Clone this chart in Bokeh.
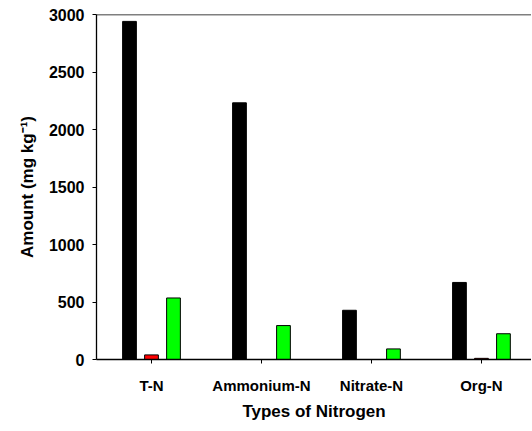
from bokeh.plotting import figure
from bokeh.models import ColumnDataSource, Range1d, FixedTicker, Span
from bokeh.transform import dodge
from bokeh.embed import file_html
from bokeh.resources import INLINE

categories = ["T-N", "Ammonium-N", "Nitrate-N", "Org-N"]
series_black = [2940, 2232, 428, 670]
series_red = [40, 0, 0, 10]
series_green = [535, 295, 92, 224]
y_ticks = [0, 500, 1000, 1500, 2000, 2500, 3000]

xs = list(range(len(categories)))
src = ColumnDataSource(dict(x=xs, black=series_black, red=series_red, green=series_green))

p = figure(frame_width=435, frame_height=345, output_backend="svg", toolbar_location=None,
           x_range=Range1d(-0.5, 3.455), y_range=Range1d(0, 3000),
           min_border_left=96, min_border_top=14, min_border_right=0, min_border_bottom=60)

bw = 0.125
p.vbar(x=dodge('x', -0.2, range=p.x_range), top='black', width=bw, bottom=0, source=src,
       fill_color="#000000", line_color="#000000", line_width=1)
p.vbar(x=dodge('x', 0.0, range=p.x_range), top='red', width=bw, bottom=0, source=src,
       fill_color="#ff0000", line_color="#000000", line_width=1)
p.vbar(x=dodge('x', 0.2, range=p.x_range), top='green', width=bw, bottom=0, source=src,
       fill_color="#00ff00", line_color="#000000", line_width=1)

p.outline_line_color = None
p.add_layout(Span(location=3000, dimension='width', line_color="#000000", line_width=1.3))
p.xgrid.visible = False
p.ygrid.visible = False
p.background_fill_color = "white"
p.border_fill_color = "white"

font = "Liberation Sans"
p.xaxis.ticker = FixedTicker(ticks=xs)
p.xaxis.major_label_overrides = {i: c for i, c in enumerate(categories)}
p.yaxis.ticker = FixedTicker(ticks=y_ticks)

for ax in (p.xaxis[0], p.yaxis[0]):
    ax.axis_line_color = "#000000"
    ax.axis_line_width = 1.3
    ax.major_tick_line_color = "#000000"
    ax.major_tick_out = 4
    ax.major_tick_in = 0
    ax.minor_tick_line_color = None
    ax.major_label_text_font = font
    ax.major_label_text_font_style = "bold"
    ax.major_label_text_font_size = "15px"
    ax.major_label_text_color = "#000000"
    ax.axis_label_text_font = font
    ax.axis_label_text_font_style = "bold"
    ax.axis_label_text_font_size = "17px"
    ax.axis_label_text_color = "#000000"

p.yaxis.major_label_text_font_size = "16px"
p.xaxis.axis_label = "Types of Nitrogen"
p.yaxis.axis_label = "Amount (mg kg\u207b\u00b9)"
p.xaxis.major_label_standoff = 13
p.yaxis.major_label_standoff = 8
p.xaxis.axis_label_standoff = 5
p.yaxis.axis_label_standoff = 9

open("out.html", "w").write(file_html(p, INLINE))
